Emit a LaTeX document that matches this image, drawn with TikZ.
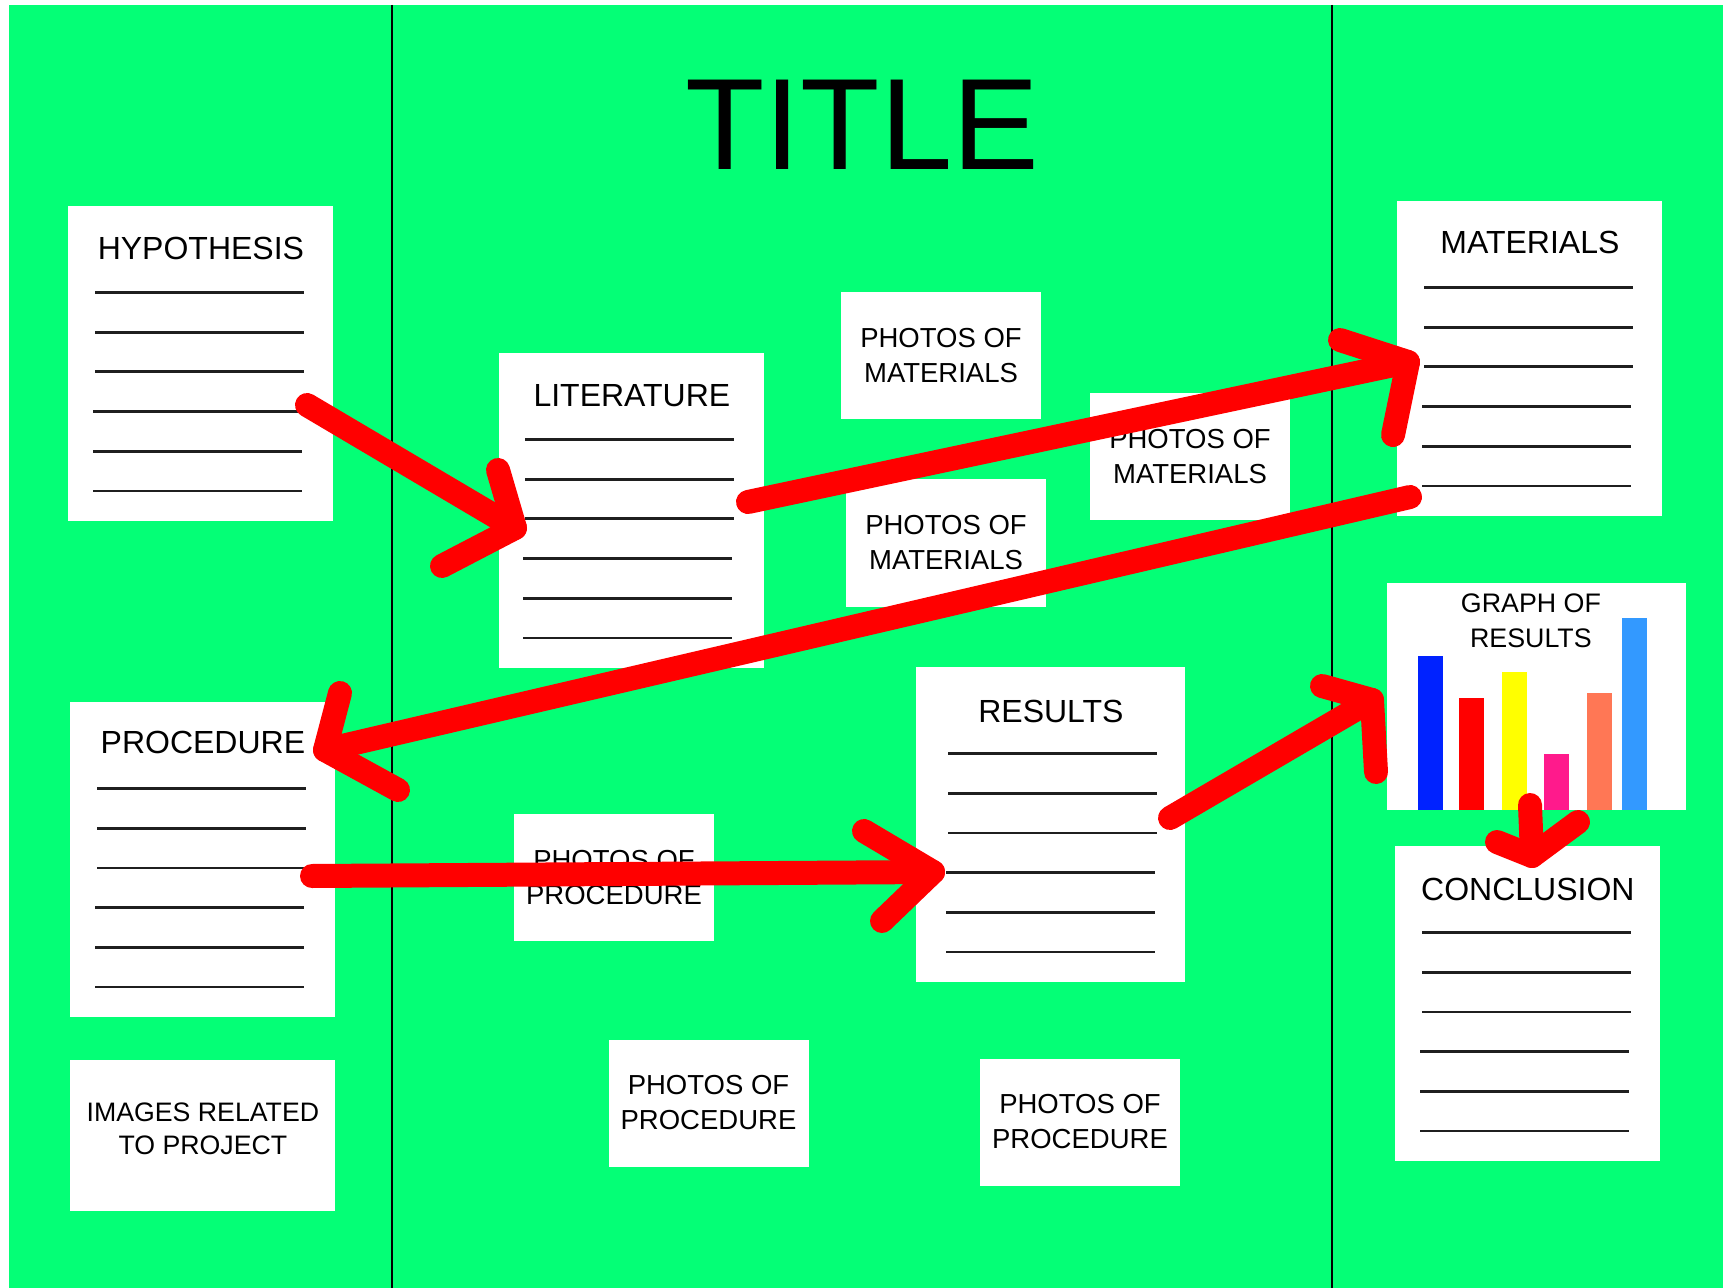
\documentclass[tikz,border=0pt]{standalone}
\usepackage{fontspec}
\setmainfont{Liberation Sans}
\usepackage{tikz}
\usetikzlibrary{calc}
\usetikzlibrary{positioning}

\definecolor{boardgreen}{RGB}{4,255,118}
\definecolor{barblue}{RGB}{0,34,255}
\definecolor{barred}{RGB}{255,0,0}
\definecolor{baryellow}{RGB}{255,255,0}
\definecolor{barpink}{RGB}{255,26,140}
\definecolor{barsalmon}{RGB}{255,119,85}
\definecolor{barsky}{RGB}{51,153,255}

\begin{document}
\begin{tikzpicture}[x=0.5pt,y=-0.5pt]
		\tikzstyle{paper}=[fill=white,inner sep=0pt,anchor=north west,minimum width=132.5pt,minimum height=157.5pt]
		\tikzstyle{photo}=[fill=white,inner sep=0pt,align=center,minimum width=100pt,minimum height=63.5pt,font=\fontsize{13.75}{17.5}\selectfont]
		\tikzstyle{head}=[anchor=base,inner sep=0pt,font=\fontsize{16}{19}\selectfont]
		\tikzstyle{rule}=[draw=black!88,line width=1.4pt]
		\tikzstyle{divider}=[draw=black,line width=1pt]
		\tikzstyle{pen}=[draw=red,line width=12pt,line cap=round,line join=round]
		% board
		\useasboundingbox (0,0) rectangle (1723,1288);
		\fill[white] (0,0) rectangle (1723,1288);
		\fill[boardgreen] (9,5) rectangle (1723,1288);
		\draw[divider] (392,5) -- (392,1288);
		\draw[divider] (1332,5) -- (1332,1288);
		\node[anchor=base,inner sep=0pt,font=\fontsize{65}{70}\selectfont] (title) at (862,170) {TITLE};
		% sheets with lines
		\node[paper] (hyp) at (68,206) {};
		\node[paper] (lit) at (499,353) {};
		\node[paper] (proc) at (70,702) {};
		\node[paper,minimum width=134.5pt] (res) at (916,667) {};
		\node[paper] (mat) at (1397,201) {};
		\node[paper] (concl) at (1395,846) {};
		\node[head] (hyp-t) at ($(hyp.north)+(0,53.5)$) {HYPOTHESIS};
		\node[head] (lit-t) at ($(lit.north)+(0,53.5)$) {LITERATURE};
		\node[head] (proc-t) at ($(proc.north)+(0,51.5)$) {PROCEDURE};
		\node[head] (res-t) at ($(res.north)+(0,55)$) {RESULTS};
		\node[head] (mat-t) at ($(mat.north)+(0,52.5)$) {MATERIALS};
		\node[head] (concl-t) at ($(concl.north)+(0,54.5)$) {CONCLUSION};
		\foreach \b/\ox in {hyp/27,lit/26,proc/27,res/32,mat/27,concl/27}
			\foreach \k/\dx in {1/0,2/0,3/0,4/-2,5/-2,6/-2}
				\draw[rule] ($(\b.north west)+({\ox+\dx},{86.5+39.7*(\k-1)})$) -- ++(209,0);
		% photo cards
		\node[photo] (pm1) at (941,355.5) {PHOTOS OF\\MATERIALS};
		\node[photo] (pm2) at (1190,457) {PHOTOS OF\\MATERIALS};
		\node[photo] (pm3) at (946,543) {PHOTOS OF\\MATERIALS};
		\node[photo] (pp1) at (614,877.5) {PHOTOS OF\\PROCEDURE};
		\node[photo] (pp2) at (708.5,1103) {PHOTOS OF\\PROCEDURE};
		\node[photo] (pp3) at (1080,1122) {PHOTOS OF\\PROCEDURE};
		\node[paper,minimum height=75.5pt] (imgs) at (70,1060) {};
		\node[anchor=base,inner sep=0pt,align=center,font=\fontsize{13.35}{16.5}\selectfont] (imgs-t) at ($(imgs.north)+(0,94.5)$) {IMAGES RELATED\\TO PROJECT};
		% graph
		\node[paper,minimum width=149.5pt,minimum height=113.5pt] (graph) at (1387,583) {};
		\node[anchor=base,inner sep=0pt,align=center,font=\fontsize{13.4}{17.5}\selectfont] (graph-t) at ($(graph.north)+(-6,64.5)$) {GRAPH OF\\RESULTS};
		\foreach \x/\h/\c in {1418/656/barblue,1459/698/barred,1502/672/baryellow,1544/754/barpink,1587/693/barsalmon,1622/618/barsky}
			\fill[\c] (\x,\h) rectangle ({\x+25},810);
		% red arrows
		\coordinate (h2l-a) at (307,405);
		\coordinate (h2l-tip) at (515,528);
		\coordinate (h2l-b1) at (498,470);
		\coordinate (h2l-b2) at (442,566);
		\coordinate (l2m-a) at (748,502);
		\coordinate (l2m-tip) at (1408,362);
		\coordinate (l2m-b1) at (1340,340);
		\coordinate (l2m-b2) at (1393,435);
		\coordinate (m2p-a) at (1410,497);
		\coordinate (m2p-tip) at (325,750);
		\coordinate (m2p-b1) at (340,693);
		\coordinate (m2p-b2) at (398,790);
		\coordinate (p2r-a) at (312,876);
		\coordinate (p2r-tip) at (933,872);
		\coordinate (p2r-b1) at (864,831);
		\coordinate (p2r-b2) at (882,921);
		\coordinate (r2g-a) at (1170,818);
		\coordinate (r2g-tip) at (1372,700);
		\coordinate (r2g-b1) at (1322,686);
		\coordinate (r2g-b2) at (1376,772);
		\coordinate (g2c-a) at (1530,805);
		\coordinate (g2c-tip) at (1532,856);
		\coordinate (g2c-b1) at (1497,842);
		\coordinate (g2c-b2) at (1578,822);
		\foreach \p in {h2l,l2m,m2p,p2r,r2g,g2c}{
			\draw[pen] (\p-a) -- (\p-tip);
			\draw[pen] (\p-b1) -- (\p-tip) -- (\p-b2);
		}
\end{tikzpicture}
\end{document}
